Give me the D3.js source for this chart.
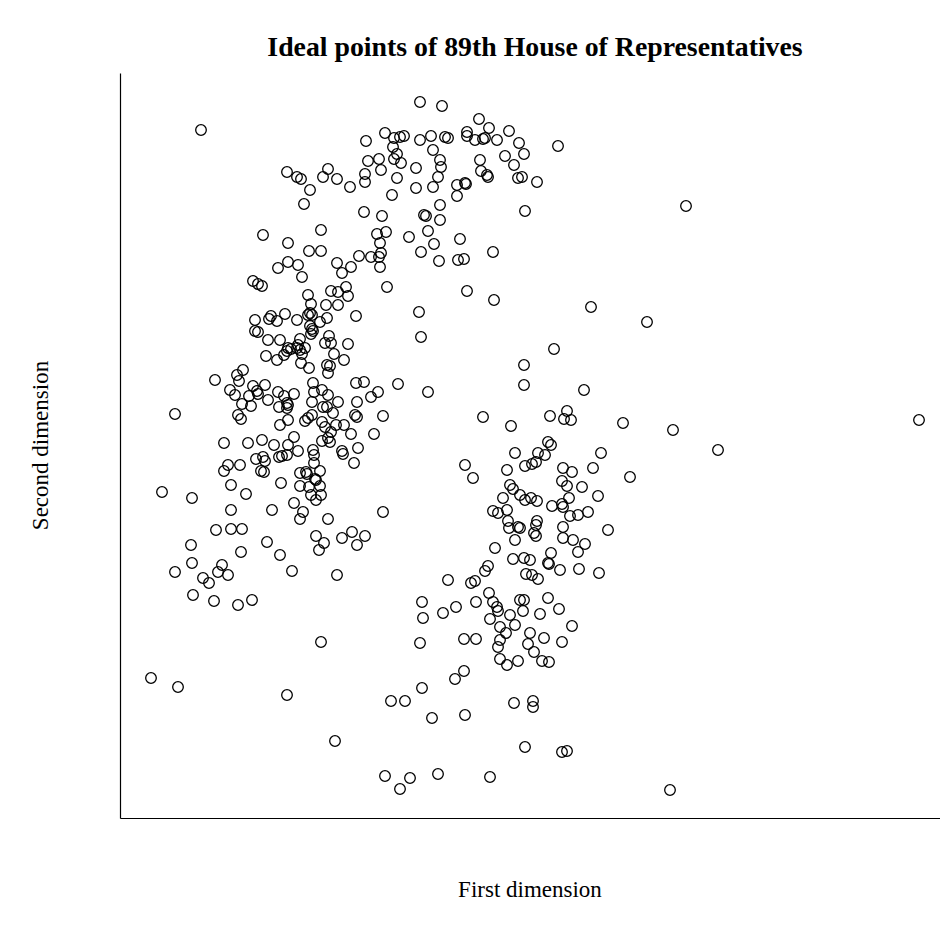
<!DOCTYPE html>
<html>
<head>
<meta charset="UTF-8">
<title>Ideal points</title>
<script src="https://d3js.org/d3.v7.min.js"></script>
<style>
  body { margin: 0; background: #fff; }
  text { font-family: "Liberation Serif", "Times New Roman", serif; }
</style>
</head>
<body>
<script>
// chart text
var title = "Ideal points of 89th House of Representatives";
var xLabel = "First dimension";
var yLabel = "Second dimension";

// ideal points (arbitrary units)
var firstDim = [
  0.81,1.67,1.77,1.81,1.43,1.68,1.68,1.58,
  3.00,3.22,2.65,2.46,2.74,2.80,2.84,3.00,3.11,3.25,3.28,2.73,3.13,2.77,2.74,2.81,2.59,2.48,2.61,2.45,2.45,2.77,
  2.96,3.20,3.21,3.18,2.96,3.13,3.37,3.37,2.72,2.08,2.03,2.17,2.30,1.90,1.84,2.44,2.62,3.04,3.06,3.20,3.20,2.01,
  2.57,2.66,2.89,3.08,3.14,2.60,3.01,2.61,2.59,2.51,2.39,2.17,2.31,1.89,2.01,1.78,3.19,3.40,3.38,3.44,2.60,
  3.59,3.69,3.47,3.47,3.55,3.63,3.65,3.77,3.89,3.99,4.04,4.38,3.60,3.85,3.94,3.61,3.67,3.68,3.98,4.02,4.17,3.45,
  3.46,4.05,3.73,
  1.33,1.38,1.42,1.35,1.51,1.49,1.57,1.65,1.77,1.35,1.38,1.48,1.60,1.68,1.71,1.67,1.46,1.57,1.64,1.23,1.17,1.19,
  0.95,1.10,1.15,1.22,1.31,1.29,1.33,1.37,1.38,1.45,1.48,1.58,1.64,1.67,1.68,1.67,1.74,1.59,1.68,1.60,1.18,1.21,
  0.55,1.04,1.28,1.42,1.54,1.68,1.74,
  1.82,2.22,2.67,1.88,2.11,2.18,2.26,2.28,1.91,2.06,2.18,2.36,1.90,1.88,1.92,2.07,2.00,1.90,1.92,1.93,1.91,1.80,
  2.09,2.05,2.11,2.28,2.14,2.24,1.78,1.77,1.80,1.85,1.82,1.81,1.89,2.07,2.10,2.08,2.99,3.01,2.36,2.44,2.78,3.08,
  2.58,2.51,2.37,2.63,2.35,2.37,1.93,1.94,2.02,2.08,1.92,2.18,2.03,2.07,2.13,1.92,1.88,1.85,2.02,2.16,2.24,2.05,
  2.11,2.31,2.54,2.08,2.02,2.10,
  3.47,3.74,4.71,4.34,4.04,4.04,4.64,3.63,3.91,4.30,4.47,4.44,4.51,4.28,4.31,
  0.42,0.72,1.11,1.26,1.11,1.52,1.61,1.74,0.96,1.11,1.22,0.71,1.47,1.21,1.60,0.72,0.55,1.02,0.98,1.08,0.83,0.89,
  1.72,0.73,0.94,1.18,1.32,1.08,1.20,1.04,1.36,1.43,1.45,1.41,1.44,1.59,1.62,1.67,
  1.78,1.93,1.94,2.22,2.23,2.38,2.34,1.94,1.80,1.86,1.87,2.00,1.95,1.96,1.80,1.89,2.00,1.91,2.01,1.96,1.83,1.80,
  2.08,2.63,1.96,2.04,1.99,2.22,2.32,2.45,2.37,2.17,3.28,3.02,3.03,3.23,3.36,
  3.95,4.18,4.25,4.16,4.12,4.05,4.81,3.45,3.53,3.87,4.43,4.52,4.73,4.42,4.47,4.62,4.78,3.90,3.93,4.00,4.05,4.11,
  4.17,3.83,4.49,4.32,4.42,4.43,4.50,4.58,4.68,3.73,3.78,3.87,3.88,3.89,3.98,4.00,4.17,4.16,4.14,4.16,3.95,4.43,
  4.43,4.53,4.65,4.88,4.58,4.31,4.28,4.29,3.75,3.93,4.04,4.10,4.40,4.59,4.79,4.06,4.12,4.18,3.68,3.65,3.55,3.51,
  3.69,3.56,3.73,3.77,3.78,4.00,4.04,4.03,4.28,4.39,4.20,3.90,3.70,3.95,4.52,3.80,
  0.31,0.58,1.67,
  2.01,3.00,3.35,3.02,2.71,2.85,3.12,2.15,2.65,2.90,2.80,3.18,
  3.44,3.56,3.86,3.80,3.78,3.80,3.87,3.98,4.10,4.08,4.14,4.24,4.42,4.22,4.29,3.44,3.94,4.13,4.13,3.45,4.05,4.42,
  4.47,3.70,
  5.66,5.27,5.03,5.53,5.98,7.99,5.10,5.50
];

var secondDim = [
  6.88,6.46,6.41,6.39,5.83,5.75,5.56,5.50,
  7.16,7.12,6.85,6.77,6.80,6.81,6.82,6.78,6.82,6.81,6.80,6.71,6.68,6.64,6.59,6.55,6.59,6.57,6.48,6.44,6.36,6.40,
  6.50,6.58,6.51,6.41,6.30,6.31,6.33,6.22,6.23,6.49,6.41,6.39,6.31,6.28,6.14,6.06,6.02,6.03,6.02,6.13,5.98,5.88,
  5.84,5.86,5.81,5.87,5.74,5.75,5.66,5.65,5.61,5.61,5.62,5.55,5.51,5.67,5.67,5.53,5.57,5.79,5.58,5.59,5.51,
  6.99,6.90,6.86,6.82,6.78,6.79,6.80,6.78,6.87,6.75,6.64,6.72,6.58,6.62,6.53,6.47,6.43,6.41,6.40,6.41,6.36,6.35,
  6.34,6.07,5.66,
  5.37,5.34,5.32,4.98,5.02,4.99,4.97,5.04,4.98,4.87,4.86,4.78,4.78,4.70,4.69,4.67,4.62,4.58,4.63,4.48,4.43,4.37,
  4.38,4.28,4.23,4.14,4.12,4.22,4.32,4.27,4.24,4.33,4.18,4.26,4.22,4.15,4.13,4.10,4.24,4.11,3.98,3.93,4.03,3.99,
  4.04,3.75,3.75,3.78,3.73,3.73,3.81,
  5.41,5.45,5.31,5.23,5.27,5.26,5.31,5.22,5.14,5.13,5.13,5.02,5.05,5.03,5.03,5.00,4.96,4.92,4.89,4.87,4.84,4.79,
  4.82,4.75,4.75,4.74,4.64,4.58,4.73,4.70,4.68,4.70,4.64,4.55,4.50,4.53,4.52,4.45,5.06,4.81,4.35,4.36,4.34,4.26,
  4.26,4.21,4.16,4.02,4.03,4.01,4.35,4.26,4.28,4.23,4.16,4.16,4.11,4.11,4.05,4.03,4.00,3.97,3.96,3.93,3.93,3.91,
  3.86,3.84,3.84,3.80,3.77,3.76,
  5.27,5.18,5.11,4.69,4.53,4.33,4.28,4.01,3.92,4.02,4.07,3.99,3.98,3.76,3.73,
  3.26,3.20,3.33,3.24,3.08,3.08,3.35,3.15,2.88,2.89,2.89,2.73,2.76,2.66,2.63,2.55,2.46,2.53,2.46,2.43,2.40,2.35,
  2.47,2.23,2.17,2.13,2.18,3.53,3.53,3.47,3.59,3.61,3.57,3.47,3.46,3.61,3.62,3.63,
  3.67,3.68,3.63,3.67,3.64,3.70,3.55,3.55,3.45,3.46,3.44,3.47,3.39,3.38,3.32,3.31,3.32,3.23,3.23,3.18,3.06,2.99,
  2.99,3.06,2.82,2.75,2.68,2.80,2.86,2.82,2.73,2.43,2.38,2.16,2.00,2.05,2.11,
  3.65,3.65,3.63,3.56,3.54,3.52,3.65,3.53,3.40,3.48,3.50,3.46,3.50,3.37,3.32,3.31,3.22,3.33,3.29,3.23,3.18,3.20,
  3.17,3.20,3.20,3.12,3.14,3.11,3.02,3.03,3.06,3.07,3.05,3.08,2.97,2.90,2.91,2.90,2.97,2.93,2.85,2.82,2.78,2.91,
  2.80,2.78,2.74,2.88,2.66,2.65,2.55,2.54,2.70,2.59,2.60,2.58,2.48,2.49,2.45,2.44,2.43,2.39,2.52,2.47,2.37,2.35,
  2.25,2.16,2.16,2.11,2.07,2.18,2.18,2.07,2.20,2.09,2.04,2.03,1.99,1.93,1.92,1.91,
  1.40,1.31,1.23,
  1.76,1.75,1.39,1.30,1.17,1.17,1.00,0.77,0.42,0.40,0.29,0.44,
  1.79,1.79,1.85,1.78,1.71,1.59,1.53,1.57,1.85,1.74,1.66,1.80,1.76,1.57,1.56,1.47,1.15,1.17,1.11,1.03,0.71,0.66,
  0.67,0.41,
  6.12,4.96,3.95,3.88,3.68,3.98,3.41,0.28
];

var points = firstDim.map(function (d, i) { return { x: d, y: secondDim[i] }; });

var width = 940, height = 936;
var margin = { top: 73, right: -10, bottom: 118, left: 120 };

var x = d3.scaleLinear().domain([0, 8.3]).range([margin.left, width - margin.right]);
var y = d3.scaleLinear().domain([0, 7.45]).range([height - margin.bottom, margin.top]);

var svg = d3.select("body").append("svg")
    .attr("width", width)
    .attr("height", height);

// axis lines only, no ticks (L-shaped box)
svg.append("g")
    .attr("transform", "translate(" + margin.left + ",0)")
    .call(d3.axisLeft(y).tickValues([]).tickSizeOuter(0))
    .select(".domain").attr("stroke", "#000").attr("stroke-width", 1.2);

svg.append("g")
    .attr("transform", "translate(0," + (height - margin.bottom) + ")")
    .call(d3.axisBottom(x).tickValues([]).tickSizeOuter(0))
    .select(".domain").attr("stroke", "#000").attr("stroke-width", 1.2);

// points
svg.append("g")
    .selectAll("circle")
    .data(points)
    .enter().append("circle")
    .attr("cx", function (d) { return x(d.x); })
    .attr("cy", function (d) { return y(d.y); })
    .attr("r", 5.3)
    .attr("fill", "none")
    .attr("stroke", "#000")
    .attr("stroke-width", 1.3);

// title and labels
svg.append("text")
    .attr("x", 535)
    .attr("y", 56)
    .attr("text-anchor", "middle")
    .style("font-size", "27.8px")
    .style("font-weight", "bold")
    .text(title);

svg.append("text")
    .attr("x", 530)
    .attr("y", 897)
    .attr("text-anchor", "middle")
    .style("font-size", "23px")
    .text(xLabel);

svg.append("text")
    .attr("transform", "translate(48," + ((height - margin.bottom + margin.top) / 2) + ") rotate(-90)")
    .attr("text-anchor", "middle")
    .style("font-size", "23px")
    .text(yLabel);
</script>
</body>
</html>
